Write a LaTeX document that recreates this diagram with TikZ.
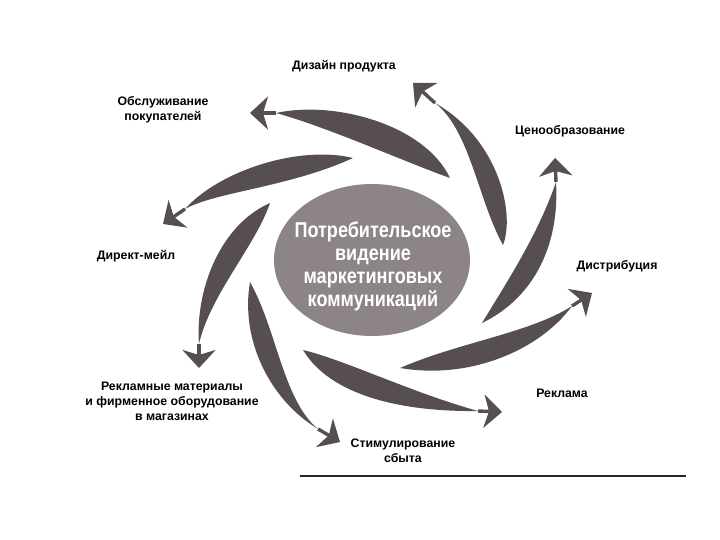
\documentclass[tikz,border=0pt]{standalone}
\usepackage{fontspec}
\setmainfont{Liberation Sans}
\newfontfamily\corefont{Liberation Sans}[FakeStretch=0.84]
\usepackage{xcolor}
\usetikzlibrary{arrows.meta, shapes.geometric, positioning, calc}

\definecolor{swirlgray}{RGB}{86,78,82}
\definecolor{coregray}{RGB}{140,132,136}

% crescent body from tail to neck, then the tip
\newcommand{\swirl}[7]{%
  \fill[swirlbody] (#1) .. controls #2 and #3 .. (#4)
                   .. controls #5 and #6 .. (#1) -- cycle;
  \draw[swirlhead] (#4) -- (#7);
}

\tikzset{
  swirlbody/.style={fill=swirlgray},
  swirlhead/.style={draw=swirlgray, line width=3.4pt,
    -{Stealth[length=18pt, width=33pt, inset=5pt]}},
  lbl/.style={font=\bfseries\fontsize{12.3}{15}\selectfont, align=center, inner sep=0pt},
}

\begin{document}
\begin{tikzpicture}[x=1pt, y=-1pt]
  \useasboundingbox (0,0) rectangle (720,540);

  % Zentrum
  \node[ellipse, fill=coregray, minimum width=196pt, minimum height=152pt, inner sep=0pt] (core) at (372,260) {};
  \node[white, font=\corefont\bfseries\fontsize{21.5}{23}\selectfont, align=center] (core-text) at (373,266) {Потребительское\\видение\\маркетинговых\\коммуникаций};

  % Beschriftungen
  \node[lbl] (design)  at (344,66)  {Дизайн продукта};
  \node[lbl] (service) at (163,110) {Обслуживание\\покупателей};
  \node[lbl] (price)   at (570,131) {Ценообразование};
  \node[lbl] (direct)  at (136,256) {Директ-мейл};
  \node[lbl] (distr)   at (617,266) {Дистрибуция};
  \node[lbl] (instore) at (172,401) {Рекламные материалы\\и фирменное оборудование\\в магазинах};
  \node[lbl] (adv)     at (562,393) {Реклама};
  \node[lbl] (promo)   at (403,451) {Стимулирование\\сбыта};

  % Enden der Wirbel: Schwanz / Hals / Spitze
  \coordinate (t1) at (503,245); \coordinate (h1) at (435,103); \coordinate (p1) at (413,83);
  \coordinate (t2) at (450,178); \coordinate (h2) at (276,113); \coordinate (p2) at (250,113);
  \coordinate (t3) at (353,158); \coordinate (h3) at (185,209); \coordinate (p3) at (163,224);
  \coordinate (t4) at (270,203); \coordinate (h4) at (199,344); \coordinate (p4) at (199,368);
  \coordinate (t5) at (250,282); \coordinate (h5) at (318,429); \coordinate (p5) at (340,442);
  \coordinate (t6) at (303,350); \coordinate (h6) at (478,411); \coordinate (p6) at (502,412);
  \coordinate (t7) at (400,368); \coordinate (h7) at (572,306); \coordinate (p7) at (592,293);
  \coordinate (t8) at (482,323); \coordinate (h8) at (556,182); \coordinate (p8) at (555,158);

  % Wirbel
  \swirl{t1}{(515,215)}{(500,140)}{h1}{(470,130)}{(478,200)}{p1}
  \swirl{t2}{(425,125)}{(335,100)}{h2}{(330,128)}{(405,162)}{p2}
  \swirl{t3}{(300,145)}{(220,170)}{h3}{(215,192)}{(290,187)}{p3}
  \swirl{t4}{(220,225)}{(195,290)}{h4}{(210,295)}{(256,245)}{p4}
  \swirl{t5}{(240,340)}{(270,400)}{h5}{(283,400)}{(277,330)}{p5}
  \swirl{t6}{(330,395)}{(400,412)}{h6}{(410,392)}{(345,360)}{p6}
  \swirl{t7}{(470,380)}{(540,350)}{h7}{(530,333)}{(460,342)}{p7}
  \swirl{t8}{(530,300)}{(560,250)}{h8}{(538,235)}{(505,285)}{p8}

  % Linie unten
  \draw[line width=1.6pt, black!85] (300,476) -- (686,476);
\end{tikzpicture}
\end{document}
